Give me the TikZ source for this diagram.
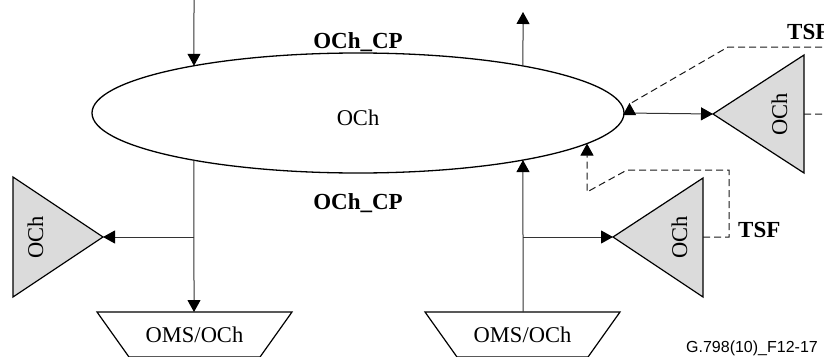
\documentclass[tikz,border=0pt]{standalone}
\usepackage{fontspec}
\setmainfont{Liberation Serif}
\newfontfamily\labelsans{Liberation Sans}
\usetikzlibrary{arrows.meta,intersections,shapes.geometric}
\begin{document}
\begin{tikzpicture}[x=1pt,y=-1pt,
  conn/.style={draw=black!80, line width=1pt},
  tip/.style={-{Triangle[length=12pt,width=13pt,color=black]}},
  tsfline/.style={draw=black!90, line width=1pt, dash pattern=on 7pt off 4pt},
  tri/.style={draw=black, line width=1.2pt, fill=black!14, line join=miter},
  trap/.style={draw=black, line width=1.2pt, fill=white},
  lbl/.style={font=\fontsize{22.5}{26}\selectfont, inner sep=0pt},
  blbl/.style={font=\fontsize{23}{26}\selectfont\bfseries, inner sep=0pt},
  codelbl/.style={font=\labelsans\fontsize{16}{19}\selectfont, inner sep=0pt},
]
\useasboundingbox (0,0) rectangle (824,356);
\clip (0,0) rectangle (824,356);

% central ellipse
\node[draw, line width=1.3pt, ellipse, minimum width=532pt, minimum height=120pt, inner sep=0pt] (och) at (358,113) {};
\node[lbl, anchor=base] (ochtxt) at (358,125) {OCh};
\path[name path=E] (358,113) ellipse [x radius=266, y radius=60];

% labels
\node[blbl, anchor=base] (cpt) at (358,48) {OCh\_CP};
\node[blbl, anchor=base] (cpb) at (358,209) {OCh\_CP};

% triangles
\draw[tri] (13,177) -- (103,237) -- (13,297) -- cycle;
\coordinate (l1tip) at (103,237);
\node[lbl, rotate=90, anchor=base] (l1txt) at (43,237) {OCh};

\draw[tri] (703,178) -- (613,237) -- (703,297) -- cycle;
\coordinate (r1tip) at (613,237);
\coordinate (r1back) at (703,237);
\node[lbl, rotate=90, anchor=base] (r1txt) at (687,237) {OCh};

\draw[tri] (804,55) -- (713,114) -- (804,173) -- cycle;
\coordinate (r2tip) at (713,114);
\coordinate (r2back) at (804,114);
\node[lbl, rotate=90, anchor=base] (r2txt) at (787,114) {OCh};

% trapezoids
\draw[trap] (97,312) -- (292,312) -- (260,357) -- (129,357) -- cycle;
\node[lbl, anchor=base] (m1txt) at (194.5,342) {OMS/OCh};
\coordinate (m1top) at (194,312);

\draw[trap] (425,312) -- (620,312) -- (588,357) -- (457,357) -- cycle;
\node[lbl, anchor=base] (m2txt) at (522.5,342) {OMS/OCh};
\coordinate (m2top) at (523,312);

% intersections with the ellipse
\path[name path=v1] (194,0) -- (194,356);
\path[name path=v2] (523,0) -- (523,356);
\path[name path=v3] (587,0) -- (587,356);
\path[name intersections={of=E and v1, by={e1t,e1b}, sort by=v1}];
\path[name intersections={of=E and v2, by={e2t,e2b}, sort by=v2}];
\path[name intersections={of=E and v3, by={e3t,e3b}, sort by=v3}];

% connectors
\coordinate (inTop) at (194,0);
\coordinate (outTop) at (523,12);
\coordinate (j1) at (194,237);
\coordinate (j2) at (523,237);
\draw[conn,tip] (inTop) -- (e1t);
\draw[conn,tip] (e1b) -- (m1top);
\draw[conn,tip] (j1) -- (l1tip);
\draw[conn,tip] (e2t) -- (outTop);
\draw[conn,tip] (m2top) -- (e2b);
\draw[conn,tip] (j2) -- (r1tip);
\draw[conn,tip] (och.east) -- (r2tip);

% TSF dashed paths
\draw[tsfline,tip] (r1back) -- (729,237) -- (729,170) -- (627,170) -- (587,192) -- (e3b);
\draw[tsfline,tip] (r2back) -- (840,114) -- (840,47) -- (728,47) -- (629.5,104) -- (629.5,103);
\node[blbl, anchor=base west] (tsf1) at (738,237) {TSF};
\node[blbl, anchor=base west] (tsf2) at (787,39) {TSF};

% figure code
\node[codelbl, anchor=base east] (code) at (818,352) {G.798(10)\_F12-17};
\end{tikzpicture}
\end{document}
